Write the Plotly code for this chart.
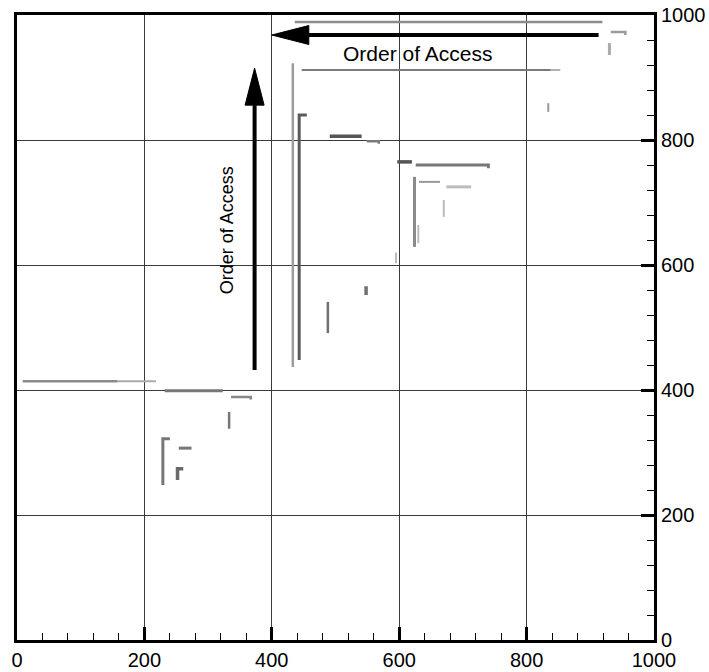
import plotly.graph_objects as go

# ---- data: access-pattern segments (polyline vertices, data units) ----
seg_x = [
    [436, 919],            # top long line
    [447, 838],            # second long line (dark part)
    [838, 853],            # second long line (light tail)
    [932, 955, 955],       # top-right hook
    [930, 930],            # top-right tick
    [834, 834],            # small mark near 850
    [433, 433],            # tall light vertical
    [455, 443, 443],       # tall dark vertical with cap
    [491, 541],            # dark short horizontal ~806
    [549, 568, 568],       # hook ~798
    [597, 620],            # dark short ~765
    [626, 740, 740],       # long ~760 with hook
    [624, 624],            # vertical ~624
    [631, 664],            # short ~733
    [674, 713],            # light ~725
    [670, 670],            # light vertical ~670
    [630, 630],            # light vertical ~630
    [595, 595],            # light vertical ~595
    [488, 488],            # vertical ~488
    [548, 548],            # small ~548
    [9, 158],              # left long (dark)
    [158, 218],            # left long (light tail)
    [232, 323],            # ~399
    [336, 367, 367],       # hook ~389
    [333, 333],            # vertical ~333
    [240, 229, 229],       # big corner ~229
    [254, 274],            # short ~307
    [261, 252, 252],       # small corner ~252
]
seg_y = [
    [989, 989],
    [912, 912],
    [912, 912],
    [973, 973, 968],
    [936, 955],
    [845, 859],
    [437, 923],
    [840, 840, 448],
    [806, 806],
    [798, 798, 794],
    [765, 765],
    [760, 760, 755],
    [629, 741],
    [733, 733],
    [725, 725],
    [677, 704],
    [635, 664],
    [603, 620],
    [491, 541],
    [552, 566],
    [414, 414],
    [414, 414],
    [399, 399],
    [389, 389, 385],
    [338, 365],
    [322, 322, 248],
    [307, 307],
    [274, 274, 256],
]

# arrows ("Order of Access"), data units
harrow_x = [913, 400]
harrow_y = [968, 968]
varrow_x = [373, 373]
varrow_y = [432, 915]
label_text = "Order of Access"

x_ticks = [0, 200, 400, 600, 800, 1000]
y_ticks = [0, 200, 400, 600, 800, 1000]

# ---- styles ----
seg_color = [
    "#8c8c8c", "#7a7a7a", "#b0b0b0", "#9a9a9a", "#aaaaaa", "#9a9a9a",
    "#9c9c9c", "#5a5a5a", "#555555", "#7a7a7a", "#555555", "#777777",
    "#8a8a8a", "#999999", "#bcbcbc", "#bcbcbc", "#bcbcbc", "#bcbcbc",
    "#707070", "#707070", "#8a8a8a", "#aaaaaa", "#777777", "#888888",
    "#777777", "#777777", "#777777", "#6a6a6a",
]
seg_width = [
    2.5, 2, 2, 2.5, 3, 2, 2.5, 3, 3.5, 2.5, 3.5, 3, 3, 2, 3, 2, 2, 2,
    2.5, 3.5, 2.5, 2, 3, 2.5, 2.5, 3, 3, 3.5,
]

W, H = 709, 672
M = dict(l=17, r=55, t=15, b=32)
px_x = (W - M["l"] - M["r"]) / 1000.0
px_y = (H - M["t"] - M["b"]) / 1000.0
head_len, head_half = 37, 9.5

fig = go.Figure()
for xs, ys, c, w in zip(seg_x, seg_y, seg_color, seg_width):
    fig.add_trace(go.Scatter(x=xs, y=ys, mode="lines",
                             line=dict(color=c, width=w),
                             showlegend=False, hoverinfo="skip"))

# horizontal arrow (pointing left)
hx0, hx1 = harrow_x
hy = harrow_y[0]
hbase = hx1 + head_len / px_x
fig.add_trace(go.Scatter(x=[hx0, hbase], y=[hy, hy], mode="lines",
                         line=dict(color="black", width=4),
                         showlegend=False, hoverinfo="skip"))
fig.add_trace(go.Scatter(x=[hx1, hbase, hbase, hx1],
                         y=[hy, hy + head_half / px_y, hy - head_half / px_y, hy],
                         mode="lines", fill="toself", fillcolor="black",
                         line=dict(color="black", width=1),
                         showlegend=False, hoverinfo="skip"))
# vertical arrow (pointing up)
vx = varrow_x[0]
vy0, vy1 = varrow_y
vbase = vy1 - head_len / px_y
fig.add_trace(go.Scatter(x=[vx, vx], y=[vy0, vbase], mode="lines",
                         line=dict(color="black", width=4),
                         showlegend=False, hoverinfo="skip"))
fig.add_trace(go.Scatter(x=[vx, vx - head_half / px_x, vx + head_half / px_x, vx],
                         y=[vy1, vbase, vbase, vy1],
                         mode="lines", fill="toself", fillcolor="black",
                         line=dict(color="black", width=1),
                         showlegend=False, hoverinfo="skip"))

fig.add_annotation(x=628, y=939, text=label_text, showarrow=False,
                   font=dict(family="Liberation Sans, Arial", size=21, color="black"))
fig.add_annotation(x=330, y=656, text=label_text, showarrow=False, textangle=-90,
                   font=dict(family="Liberation Sans, Arial", size=18, color="black"))

axis_common = dict(
    range=[0, 1000], tickvals=x_ticks, ticks="inside", ticklen=13, tickwidth=3,
    tickcolor="black", showline=True, linewidth=3, linecolor="black", mirror=True,
    showgrid=True, gridcolor="#3a3a3a", gridwidth=1, zeroline=False,
    minor=dict(dtick=40, ticks="inside", ticklen=7, tickwidth=1,
               tickcolor="black", showgrid=False),
    tickfont=dict(family="Liberation Sans, Arial", size=20, color="black"),
    fixedrange=True, automargin=False,
)
fig.update_xaxes(**axis_common)
fig.update_yaxes(**axis_common, side="right")
fig.update_yaxes(tickvals=y_ticks)

fig.update_layout(width=W, height=H, margin=M, plot_bgcolor="white",
                  paper_bgcolor="white", showlegend=False)
fig.write_html("out.html", config={"displayModeBar": False},
               post_script="document.body.style.margin='0';"
                           "document.body.style.overflow='hidden';")
